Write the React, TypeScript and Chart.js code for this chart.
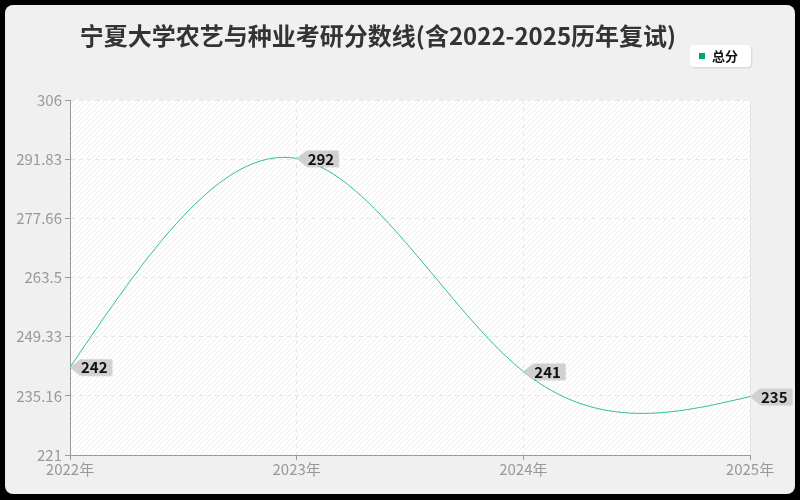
import { useEffect, useRef } from "react";
import { Chart, registerables, Plugin } from "chart.js";

Chart.register(...registerables);

const title = "宁夏大学农艺与种业考研分数线(含2022-2025历年复试)";
const seriesName = "总分";
const years = ["2022年", "2023年", "2024年", "2025年"];
const scores = [242, 292, 241, 235];
const yMin = 221;
const yMax = 306;
const yTickCount = 6;

const FONT = "'Noto Sans CJK SC', 'Noto Sans', sans-serif";
const LINE_COLOR = "#2ec28c";

// background frame, plot hatch, title and legend
const framePlugin: Plugin = {
  id: "frame",
  beforeDraw(chart) {
    const { ctx, chartArea: a, width, height } = chart;
    ctx.save();
    ctx.fillStyle = "#000";
    ctx.fillRect(0, 0, width, height);
    ctx.fillStyle = "#f0f0f0";
    ctx.beginPath();
    ctx.roundRect(5, 5, width - 10, height - 11, 8);
    ctx.fill();

    ctx.fillStyle = "#fff";
    ctx.fillRect(a.left, a.top, a.width, a.height);
    ctx.beginPath();
    ctx.rect(a.left, a.top, a.width, a.height);
    ctx.clip();
    ctx.strokeStyle = "#ececec";
    ctx.lineWidth = 1;
    for (let s = -a.height; s < a.width; s += 5) {
      ctx.beginPath();
      ctx.moveTo(a.left + s, a.bottom);
      ctx.lineTo(a.left + s + a.height, a.top);
      ctx.stroke();
    }
    ctx.restore();

    ctx.save();
    ctx.strokeStyle = "#e2e2e2";
    ctx.beginPath();
    ctx.moveTo(a.right + 0.5, a.top);
    ctx.lineTo(a.right + 0.5, a.bottom);
    ctx.stroke();

    ctx.fillStyle = "#333";
    ctx.font = `bold 24px ${FONT}`;
    ctx.textAlign = "center";
    ctx.textBaseline = "middle";
    ctx.fillText(title, 378, 36);

    ctx.shadowColor = "rgba(0,0,0,0.12)";
    ctx.shadowBlur = 2;
    ctx.shadowOffsetX = 1;
    ctx.shadowOffsetY = 1;
    ctx.fillStyle = "#fff";
    ctx.beginPath();
    ctx.roundRect(690, 45, 61, 22, 4);
    ctx.fill();
    ctx.shadowColor = "transparent";
    ctx.fillStyle = "#00a870";
    ctx.fillRect(699, 53, 6, 6);
    ctx.fillStyle = "#111";
    ctx.font = `bold 13px ${FONT}`;
    ctx.textAlign = "left";
    ctx.fillText(seriesName, 712, 56);
    ctx.restore();
  },
};

// natural cubic spline through the points
const splinePlugin: Plugin = {
  id: "naturalSpline",
  beforeDatasetDraw(chart, args) {
    const meta = args.meta;
    const line: any = meta.dataset;
    if (!line) return;
    line.updateControlPoints(chart.chartArea, meta.indexAxis);
    const pts: any[] = meta.data as any[];
    const n = pts.length;
    if (n < 2) return;
    const ys = pts.map((p) => p.y);
    const a = new Array(n).fill(0);
    const b = new Array(n).fill(0);
    const c = new Array(n).fill(0);
    const d = new Array(n).fill(0);
    for (let i = 0; i < n; i++) {
      if (i === 0) {
        b[i] = 2; c[i] = 1; d[i] = 3 * (ys[1] - ys[0]);
      } else if (i === n - 1) {
        a[i] = 1; b[i] = 2; d[i] = 3 * (ys[n - 1] - ys[n - 2]);
      } else {
        a[i] = 1; b[i] = 4; c[i] = 1; d[i] = 3 * (ys[i + 1] - ys[i - 1]);
      }
    }
    for (let i = 1; i < n; i++) {
      const w = a[i] / b[i - 1];
      b[i] -= w * c[i - 1];
      d[i] -= w * d[i - 1];
    }
    const m = new Array(n).fill(0);
    m[n - 1] = d[n - 1] / b[n - 1];
    for (let i = n - 2; i >= 0; i--) m[i] = (d[i] - c[i] * m[i + 1]) / b[i];
    for (let i = 0; i < n; i++) {
      const p = pts[i];
      const hPrev = i > 0 ? p.x - pts[i - 1].x : 0;
      const hNext = i < n - 1 ? pts[i + 1].x - p.x : 0;
      p.cp1x = p.x - hPrev / 3;
      p.cp1y = p.y - m[i] / 3;
      p.cp2x = p.x + hNext / 3;
      p.cp2y = p.y + m[i] / 3;
    }
  },
};

// grey callouts with the value
const calloutPlugin: Plugin = {
  id: "callouts",
  afterDatasetsDraw(chart) {
    const { ctx } = chart;
    const meta = chart.getDatasetMeta(0);
    ctx.save();
    ctx.font = `bold 15px ${FONT}`;
    ctx.textBaseline = "middle";
    ctx.textAlign = "left";
    meta.data.forEach((pt: any, i) => {
      const text = String(scores[i]);
      const tw = ctx.measureText(text).width;
      const x = pt.x;
      const y = pt.y;
      const boxL = x + 10;
      const boxR = boxL + tw + 5;
      ctx.fillStyle = "#d0d0d0";
      ctx.shadowColor = "rgba(0,0,0,0.15)";
      ctx.shadowBlur = 1;
      ctx.shadowOffsetX = 1;
      ctx.shadowOffsetY = 1;
      ctx.beginPath();
      ctx.moveTo(x, y);
      ctx.lineTo(boxL, y - 8);
      ctx.lineTo(boxR, y - 8);
      ctx.lineTo(boxR, y + 8);
      ctx.lineTo(boxL, y + 8);
      ctx.closePath();
      ctx.fill();
      ctx.shadowColor = "transparent";
      ctx.fillStyle = "#111";
      ctx.fillText(text, boxL + 1, y + 0.5);
    });
    ctx.restore();
  },
};

export default function App() {
  const canvasRef = useRef<HTMLCanvasElement>(null);
  const chartRef = useRef<Chart | null>(null);

  useEffect(() => {
    document.body.style.margin = "0";
    if (!canvasRef.current) return;
    if (chartRef.current) chartRef.current.destroy();
    const ctx = canvasRef.current.getContext("2d");
    if (!ctx) return;

    chartRef.current = new Chart(ctx, {
      type: "line",
      data: {
        labels: years,
        datasets: [
          {
            label: seriesName,
            data: scores,
            borderColor: LINE_COLOR,
            borderWidth: 1,
            pointRadius: 0,
            tension: 0.4,
            fill: false,
          },
        ],
      },
      options: {
        responsive: false,
        animation: false,
        layout: { padding: { top: 100, right: 50, left: 0, bottom: 0 } },
        plugins: {
          legend: { display: false },
          title: { display: false },
          tooltip: { enabled: false },
        },
        scales: {
          x: {
            type: "category",
            offset: false,
            afterFit: (s: any) => { s.height = 45; },
            border: { color: "#999", width: 1, dash: [4, 4] },
            grid: {
              color: "#e6e6e6",
              tickColor: "#999",
              tickLength: 5,
              tickBorderDash: [],
            },
            ticks: {
              color: "#999",
              font: { family: FONT, size: 15 },
              padding: 0,
              maxRotation: 0,
            },
          },
          y: {
            min: yMin,
            max: yMax,
            afterFit: (s: any) => { s.width = 70; },
            afterBuildTicks: (s: any) => {
              const step = (yMax - yMin) / yTickCount;
              s.ticks = Array.from({ length: yTickCount + 1 }, (_, i) => ({ value: yMin + i * step }));
            },
            border: { color: "#999", width: 1, dash: [4, 4] },
            grid: {
              color: "#e6e6e6",
              tickColor: "#999",
              tickLength: 5,
              tickBorderDash: [],
            },
            ticks: {
              color: "#999",
              font: { family: FONT, size: 15 },
              padding: 3,
              callback: (v: any) => String(Math.floor(Number(v) * 100 + 1e-6) / 100),
            },
          },
        },
      },
      plugins: [framePlugin, splinePlugin, calloutPlugin],
    });

    return () => {
      if (chartRef.current) {
        chartRef.current.destroy();
        chartRef.current = null;
      }
    };
  }, []);

  return (
    <div style={{ width: 800, height: 500 }}>
      <canvas ref={canvasRef} width={800} height={500} style={{ display: "block" }} />
    </div>
  );
}
